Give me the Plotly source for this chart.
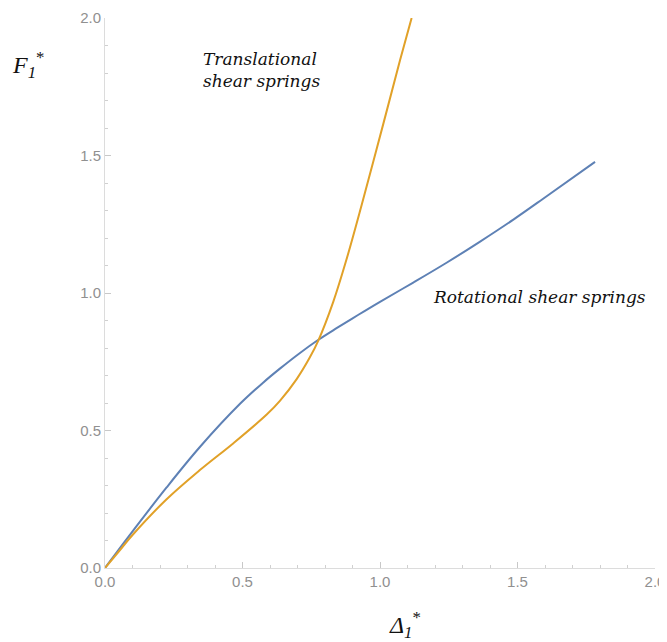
import plotly.graph_objects as go

# Rotational shear springs (blue)
rot_x = [0, 0.05, 0.103, 0.224, 0.345, 0.491, 0.576, 0.636, 0.709, 0.776, 0.842, 0.92, 1.0,
         1.121, 1.242, 1.364, 1.485, 1.606, 1.782]
rot_y = [0, 0.067, 0.137, 0.293, 0.44, 0.597, 0.675, 0.725, 0.782, 0.830, 0.872, 0.920, 0.968,
         1.038, 1.110, 1.187, 1.267, 1.352, 1.477]

# Translational shear springs (orange)
tra_x = [0, 0.05, 0.1, 0.224, 0.345, 0.467, 0.588, 0.636, 0.697, 0.745, 0.776, 0.830, 0.879,
         0.933, 1.012, 1.073, 1.115]
tra_y = [0, 0.06, 0.12, 0.25, 0.356, 0.454, 0.558, 0.608, 0.687, 0.766, 0.828, 0.968, 1.125,
         1.319, 1.615, 1.847, 2.0]

tick_vals = [0.0, 0.5, 1.0, 1.5, 2.0]
tick_text = ["0.0", "0.5", "1.0", "1.5", "2.0"]

fig = go.Figure()
fig.add_trace(go.Scatter(x=rot_x, y=rot_y, mode="lines",
                         line=dict(color="#5E81B5", width=2, shape="spline", smoothing=1.0),
                         name="Rotational shear springs", showlegend=False))
fig.add_trace(go.Scatter(x=tra_x, y=tra_y, mode="lines",
                         line=dict(color="#E1A128", width=2, shape="spline", smoothing=1.0),
                         name="Translational shear springs", showlegend=False))

axis_common = dict(
    range=[0, 2], tickvals=tick_vals, ticktext=tick_text, ticks="inside", ticklen=6,
    tickcolor="#c8c8c8", showline=True, linecolor="#dcdcdc", linewidth=1,
    showgrid=False, zeroline=False, automargin=False, ticklabeloverflow="allow",
    tickfont=dict(family="Liberation Sans, Arial, sans-serif", size=15, color="#909090"),
    minor=dict(dtick=0.1, ticks="inside", ticklen=3, tickcolor="#d0d0d0", showgrid=False),
)
fig.update_xaxes(**axis_common)
fig.update_yaxes(**axis_common)

serif = "DejaVu Serif, Liberation Serif, serif"
fig.add_annotation(x=0.35, y=1.81, xref="x", yref="y", xanchor="left", yanchor="middle", align="left",
                   text="<i>Translational<br>shear springs</i>", showarrow=False,
                   font=dict(family=serif, size=17, color="#111"))
fig.add_annotation(x=1.187, y=0.985, xref="x", yref="y", xanchor="left", yanchor="middle",
                   text="<i>Rotational shear springs</i>", showarrow=False,
                   font=dict(family=serif, size=17, color="#111"))

# the page body adds an 8px margin around the figure
OFF = 8
W, H = 667 - OFF, 642 - OFF
ml, mr, mt, mb = 105 - OFF, 12, 18 - OFF, 74
PW, PH = W - ml - mr, H - mt - mb


def paper_x(px):
    return (px - OFF - ml) / PW


def paper_y(py):
    return 1 - (py - OFF - mt) / PH


fig.add_annotation(x=paper_x(28), y=paper_y(65), xref="paper", yref="paper", showarrow=False,
                   xanchor="center", yanchor="middle",
                   text="<i>F</i><sub><i>1</i></sub><sup>*</sup>",
                   font=dict(family="Liberation Serif, serif", size=24, color="#111"))
fig.add_annotation(x=paper_x(405), y=paper_y(625), xref="paper", yref="paper", showarrow=False,
                   xanchor="center", yanchor="middle",
                   text="<i>Δ</i><sub><i>1</i></sub><sup>*</sup>",
                   font=dict(family="Liberation Serif, serif", size=24, color="#111"))

fig.update_layout(width=W, height=H, margin=dict(l=ml, r=mr, t=mt, b=mb),
                  plot_bgcolor="white", paper_bgcolor="white")
fig.write_html("out.html")
